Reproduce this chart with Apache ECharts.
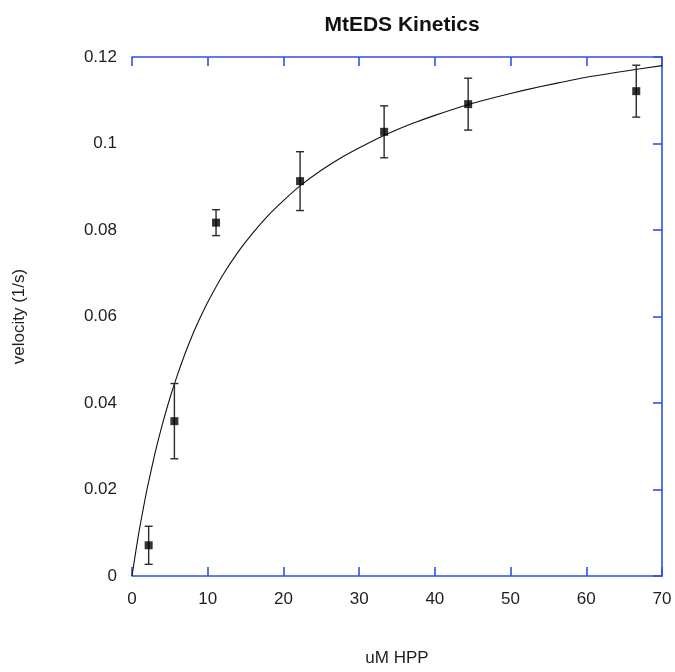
<!DOCTYPE html>
<html>
<head>
<meta charset="utf-8">
<script src="https://cdn.jsdelivr.net/npm/echarts@6/dist/echarts.min.js"></script>
<style>
  html, body { margin: 0; padding: 0; background: #ffffff; overflow: hidden; }
  #chart { width: 675px; height: 672px; }
</style>
</head>
<body>
<div id="chart"></div>
<script>
// Substrate concentration (uM HPP) and measured velocity (1/s) with error
var substrate = [2.2, 5.6, 11.1, 22.2, 33.3, 44.4, 66.6];
var velocity  = [0.0071, 0.0358, 0.0817, 0.0913, 0.1027, 0.1091, 0.1121];
var velocityErr = [0.0044, 0.0087, 0.0030, 0.0068, 0.0060, 0.0060, 0.0060];

// Fitted Michaelis-Menten curve
var fitX = [0, 0.5, 1, 1.5, 2, 3, 4, 5, 6, 7, 8, 9, 10, 12, 14, 16, 18, 20, 22.2, 25, 28, 31, 34, 37, 40, 44, 48, 52, 56, 60, 65, 70];
var fitY = [0, 0.0057, 0.0110, 0.0157, 0.0202, 0.0281, 0.0350, 0.0411, 0.0465, 0.0514, 0.0558, 0.0597, 0.0633, 0.0696, 0.0749, 0.0794, 0.0834, 0.0868, 0.0902, 0.0938, 0.0971, 0.0999, 0.1024, 0.1046, 0.1065, 0.1088, 0.1107, 0.1124, 0.1139, 0.1153, 0.1167, 0.1180];

var xTicks = [0, 10, 20, 30, 40, 50, 60, 70];
var yTicks = [0, 0.02, 0.04, 0.06, 0.08, 0.1, 0.12];

var AXIS_BLUE = '#2f50e6';
var FONT = '"Liberation Sans", Arial, sans-serif';

var points = substrate.map(function (x, i) { return [x, velocity[i]]; });
var bars = substrate.map(function (x, i) {
  return [x, velocity[i] - velocityErr[i], velocity[i] + velocityErr[i]];
});
var curve = fitX.map(function (x, i) { return [x, fitY[i]]; });

var chart = echarts.init(document.getElementById('chart'), null, { renderer: 'canvas', width: 675, height: 672 });

var labelStyle = { color: '#1e1e1e', fontFamily: FONT, fontSize: 17 };
var frameLine = { color: AXIS_BLUE, width: 1.6 };

chart.setOption({
  backgroundColor: '#ffffff',
  animation: false,
  title: {
    text: 'MtEDS Kinetics',
    left: 397,
    textAlign: 'center',
    top: 10,
    textStyle: { fontFamily: FONT, fontSize: 21, fontWeight: 'bold', color: '#111' }
  },
  grid: { left: 132, top: 57, width: 530, height: 529 },
  xAxis: [
    {
      type: 'value', position: 'bottom', min: 0, max: 70, interval: 10,
      name: 'uM HPP', nameLocation: 'middle', nameGap: 74,
      nameTextStyle: labelStyle,
      axisLine: { show: true, onZero: false, lineStyle: frameLine },
      axisTick: { show: true, inside: true, length: 9, lineStyle: frameLine },
      axisLabel: Object.assign({ margin: 15, formatter: function (v) { return xTicks.indexOf(v) >= 0 ? String(v) : ''; } }, labelStyle),
      splitLine: { show: false }
    },
    {
      type: 'value', position: 'top', min: 0, max: 70, interval: 10,
      axisLine: { show: true, onZero: false, lineStyle: frameLine },
      axisTick: { show: true, inside: true, length: 9, lineStyle: frameLine },
      axisLabel: { show: false },
      splitLine: { show: false }
    }
  ],
  yAxis: [
    {
      type: 'value', position: 'left', min: 0, max: 0.12, interval: 0.02,
      name: 'velocity (1/s)', nameLocation: 'middle', nameGap: 104, nameRotate: 90,
      nameTextStyle: labelStyle,
      axisLine: { show: false },
      axisTick: { show: false },
      axisLabel: Object.assign({ margin: 15, formatter: function (v) {
        var t = yTicks.filter(function (k) { return Math.abs(k - v) < 1e-9; });
        return t.length ? String(+t[0].toFixed(2)) : '';
      } }, labelStyle),
      splitLine: { show: false }
    },
    {
      type: 'value', position: 'right', min: 0, max: 0.12, interval: 0.02,
      axisLine: { show: true, onZero: false, lineStyle: frameLine },
      axisTick: { show: true, inside: true, length: 9, lineStyle: frameLine },
      axisLabel: { show: false },
      splitLine: { show: false }
    }
  ],
  series: [
    {
      name: 'fit',
      type: 'line',
      xAxisIndex: 0, yAxisIndex: 0,
      data: curve,
      showSymbol: false,
      smooth: 0.2,
      lineStyle: { color: '#111', width: 1.1 },
      z: 2
    },
    {
      name: 'error',
      type: 'custom',
      xAxisIndex: 0, yAxisIndex: 0,
      data: bars,
      renderItem: function (params, api) {
        var x = api.value(0);
        var lo = api.coord([x, api.value(1)]);
        var hi = api.coord([x, api.value(2)]);
        var cap = 4;
        var style = { stroke: '#2a2a2a', lineWidth: 1.4, fill: null };
        return {
          type: 'group',
          children: [
            { type: 'line', shape: { x1: lo[0], y1: lo[1], x2: hi[0], y2: hi[1] }, style: style },
            { type: 'line', shape: { x1: lo[0] - cap, y1: lo[1], x2: lo[0] + cap, y2: lo[1] }, style: style },
            { type: 'line', shape: { x1: hi[0] - cap, y1: hi[1], x2: hi[0] + cap, y2: hi[1] }, style: style }
          ]
        };
      },
      z: 3
    },
    {
      name: 'velocity',
      type: 'scatter',
      xAxisIndex: 0, yAxisIndex: 0,
      data: points,
      symbol: 'rect',
      symbolSize: 8,
      itemStyle: { color: '#000' },
      z: 4
    }
  ]
});
</script>
</body>
</html>
